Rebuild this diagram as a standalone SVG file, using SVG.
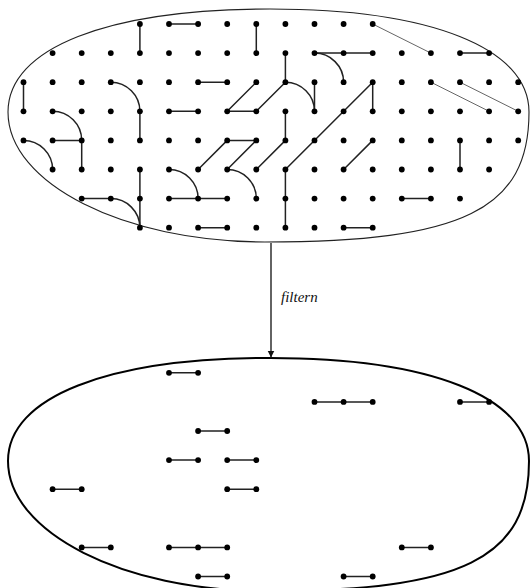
<svg xmlns="http://www.w3.org/2000/svg" width="530" height="588" viewBox="0 0 530 588">
  <defs>
    <style>
      .set { fill: none; stroke: #222; }
      .set-top { stroke-width: 1.1; }
      .set-bottom { stroke-width: 2; stroke: #000; }
      .edge { fill: none; stroke: #222; stroke-width: 1.5; stroke-linecap: butt; }
      .thin { fill: none; stroke: #555; stroke-width: 0.9; }
      .dot { fill: #000; }
      .flow { stroke: #222; stroke-width: 1.4; fill: none; }
      .label { font-family: "Liberation Serif", "DejaVu Serif", serif; font-style: italic; font-size: 15px; fill: #111; }
    </style>
    <path id="blob" d="M8,112 C8,48 107.6,9 270,9 C430.6,9 529,48 529,112 C529,209.5 463,242 265,242 C123.6,242 8,183.5 8,112 Z"/>
    <marker id="head" viewBox="0 0 10 10" refX="10" refY="5" markerWidth="7" markerHeight="10" markerUnits="userSpaceOnUse" orient="auto">
      <path d="M0,0 L10,5 L0,10 Z" fill="#111"/>
    </marker>
  </defs>

  <!-- upper set: full grid with its pairings -->
  <g id="upper-set">
    <use href="#blob" class="set set-top"/>
    <g id="upper-edges">
      <!-- vertical pairs -->
      <path class="edge" d="M139.9,24V53.1 M256.3,24V53.1 M285.4,53.1V82.2 M23.5,82.2V111.3 M314.5,82.2V111.3 M372.7,82.2V111.3 M139.9,111.3V140.4 M285.4,111.3V140.4 M81.7,140.4V169.5 M460,140.4V169.5 M139.9,169.5V227.7 M285.4,169.5V227.7"/>
      <!-- horizontal pairs -->
      <path class="edge" d="M169,24H198.1 M314.5,53.1H372.7 M460,53.1H489.1 M198.1,82.2H227.2 M169,111.3H198.1 M227.2,111.3H256.3 M52.6,140.4H81.7 M227.2,140.4H256.3 M81.7,198.6H110.8 M169,198.6H227.2 M401.8,198.6H430.9 M198.1,227.7H227.2 M343.6,227.7H372.7"/>
      <!-- diagonal pairs -->
      <path class="edge" d="M256.3,82.2L227.2,111.3 M285.4,82.2L256.3,111.3 M372.7,82.2L285.4,169.5 M227.2,140.4L198.1,169.5 M256.3,140.4L227.2,169.5 M285.4,140.4L256.3,169.5 M372.7,140.4L343.6,169.5"/>
      <!-- quarter arcs -->
      <path class="edge" d="M110.8,82.2A29.1,29.1 0 0 1 139.9,111.3 M314.5,53.1A29.1,29.1 0 0 1 343.6,82.2 M285.4,82.2A29.1,29.1 0 0 1 314.5,111.3 M52.6,111.3A29.1,29.1 0 0 1 81.7,140.4 M23.5,140.4A29.1,29.1 0 0 1 52.6,169.5 M169,169.5A29.1,29.1 0 0 1 198.1,198.6 M227.2,169.5A29.1,29.1 0 0 1 256.3,198.6 M110.8,198.6A29.1,29.1 0 0 1 139.9,227.7"/>
      <!-- long thin pairs -->
      <path class="thin" d="M372.7,24L430.9,53.1 M430.9,82.2L489.1,111.3 M460,82.2L518.2,111.3"/>
    </g>
    <g id="upper-dots" class="dot">
      <!-- row 0 -->
      <circle cx="139.9" cy="24" r="2.9"/><circle cx="169" cy="24" r="2.9"/><circle cx="198.1" cy="24" r="2.9"/><circle cx="227.2" cy="24" r="2.9"/><circle cx="256.3" cy="24" r="2.9"/><circle cx="285.4" cy="24" r="2.9"/><circle cx="314.5" cy="24" r="2.9"/><circle cx="343.6" cy="24" r="2.9"/><circle cx="372.7" cy="24" r="2.9"/>
      <!-- row 1 -->
      <circle cx="52.6" cy="53.1" r="2.9"/><circle cx="81.7" cy="53.1" r="2.9"/><circle cx="110.8" cy="53.1" r="2.9"/><circle cx="139.9" cy="53.1" r="2.9"/><circle cx="169" cy="53.1" r="2.9"/><circle cx="198.1" cy="53.1" r="2.9"/><circle cx="227.2" cy="53.1" r="2.9"/><circle cx="256.3" cy="53.1" r="2.9"/><circle cx="285.4" cy="53.1" r="2.9"/><circle cx="314.5" cy="53.1" r="2.9"/><circle cx="343.6" cy="53.1" r="2.9"/><circle cx="372.7" cy="53.1" r="2.9"/><circle cx="401.8" cy="53.1" r="2.9"/><circle cx="430.9" cy="53.1" r="2.9"/><circle cx="460" cy="53.1" r="2.9"/><circle cx="489.1" cy="53.1" r="2.9"/>
      <!-- row 2 -->
      <circle cx="23.5" cy="82.2" r="2.9"/><circle cx="52.6" cy="82.2" r="2.9"/><circle cx="81.7" cy="82.2" r="2.9"/><circle cx="110.8" cy="82.2" r="2.9"/><circle cx="139.9" cy="82.2" r="2.9"/><circle cx="169" cy="82.2" r="2.9"/><circle cx="198.1" cy="82.2" r="2.9"/><circle cx="227.2" cy="82.2" r="2.9"/><circle cx="256.3" cy="82.2" r="2.9"/><circle cx="285.4" cy="82.2" r="2.9"/><circle cx="314.5" cy="82.2" r="2.9"/><circle cx="343.6" cy="82.2" r="2.9"/><circle cx="372.7" cy="82.2" r="2.9"/><circle cx="401.8" cy="82.2" r="2.9"/><circle cx="430.9" cy="82.2" r="2.9"/><circle cx="460" cy="82.2" r="2.9"/><circle cx="489.1" cy="82.2" r="2.9"/><circle cx="518.2" cy="82.2" r="2.9"/>
      <!-- row 3 -->
      <circle cx="23.5" cy="111.3" r="2.9"/><circle cx="52.6" cy="111.3" r="2.9"/><circle cx="81.7" cy="111.3" r="2.9"/><circle cx="110.8" cy="111.3" r="2.9"/><circle cx="139.9" cy="111.3" r="2.9"/><circle cx="169" cy="111.3" r="2.9"/><circle cx="198.1" cy="111.3" r="2.9"/><circle cx="227.2" cy="111.3" r="2.9"/><circle cx="256.3" cy="111.3" r="2.9"/><circle cx="285.4" cy="111.3" r="2.9"/><circle cx="314.5" cy="111.3" r="2.9"/><circle cx="343.6" cy="111.3" r="2.9"/><circle cx="372.7" cy="111.3" r="2.9"/><circle cx="401.8" cy="111.3" r="2.9"/><circle cx="430.9" cy="111.3" r="2.9"/><circle cx="460" cy="111.3" r="2.9"/><circle cx="489.1" cy="111.3" r="2.9"/><circle cx="518.2" cy="111.3" r="2.9"/>
      <!-- row 4 -->
      <circle cx="23.5" cy="140.4" r="2.9"/><circle cx="52.6" cy="140.4" r="2.9"/><circle cx="81.7" cy="140.4" r="2.9"/><circle cx="110.8" cy="140.4" r="2.9"/><circle cx="139.9" cy="140.4" r="2.9"/><circle cx="169" cy="140.4" r="2.9"/><circle cx="198.1" cy="140.4" r="2.9"/><circle cx="227.2" cy="140.4" r="2.9"/><circle cx="256.3" cy="140.4" r="2.9"/><circle cx="285.4" cy="140.4" r="2.9"/><circle cx="314.5" cy="140.4" r="2.9"/><circle cx="343.6" cy="140.4" r="2.9"/><circle cx="372.7" cy="140.4" r="2.9"/><circle cx="401.8" cy="140.4" r="2.9"/><circle cx="430.9" cy="140.4" r="2.9"/><circle cx="460" cy="140.4" r="2.9"/><circle cx="489.1" cy="140.4" r="2.9"/><circle cx="518.2" cy="140.4" r="2.9"/>
      <!-- row 5 -->
      <circle cx="52.6" cy="169.5" r="2.9"/><circle cx="81.7" cy="169.5" r="2.9"/><circle cx="110.8" cy="169.5" r="2.9"/><circle cx="139.9" cy="169.5" r="2.9"/><circle cx="169" cy="169.5" r="2.9"/><circle cx="198.1" cy="169.5" r="2.9"/><circle cx="227.2" cy="169.5" r="2.9"/><circle cx="256.3" cy="169.5" r="2.9"/><circle cx="285.4" cy="169.5" r="2.9"/><circle cx="314.5" cy="169.5" r="2.9"/><circle cx="343.6" cy="169.5" r="2.9"/><circle cx="372.7" cy="169.5" r="2.9"/><circle cx="401.8" cy="169.5" r="2.9"/><circle cx="430.9" cy="169.5" r="2.9"/><circle cx="460" cy="169.5" r="2.9"/><circle cx="489.1" cy="169.5" r="2.9"/>
      <!-- row 6 -->
      <circle cx="81.7" cy="198.6" r="2.9"/><circle cx="110.8" cy="198.6" r="2.9"/><circle cx="139.9" cy="198.6" r="2.9"/><circle cx="169" cy="198.6" r="2.9"/><circle cx="198.1" cy="198.6" r="2.9"/><circle cx="227.2" cy="198.6" r="2.9"/><circle cx="256.3" cy="198.6" r="2.9"/><circle cx="285.4" cy="198.6" r="2.9"/><circle cx="314.5" cy="198.6" r="2.9"/><circle cx="343.6" cy="198.6" r="2.9"/><circle cx="372.7" cy="198.6" r="2.9"/><circle cx="401.8" cy="198.6" r="2.9"/><circle cx="430.9" cy="198.6" r="2.9"/><circle cx="460" cy="198.6" r="2.9"/>
      <!-- row 7 -->
      <circle cx="139.9" cy="227.7" r="2.9"/><circle cx="169" cy="227.7" r="2.9"/><circle cx="198.1" cy="227.7" r="2.9"/><circle cx="227.2" cy="227.7" r="2.9"/><circle cx="256.3" cy="227.7" r="2.9"/><circle cx="285.4" cy="227.7" r="2.9"/><circle cx="314.5" cy="227.7" r="2.9"/><circle cx="343.6" cy="227.7" r="2.9"/><circle cx="372.7" cy="227.7" r="2.9"/>
    </g>
  </g>

  <!-- lower set: only the horizontal pairs survive -->
  <g id="lower-set">
    <use href="#blob" class="set set-bottom" transform="translate(0,349)"/>
    <path class="edge" d="M169,372.8H198.1 M314.5,401.9H372.7 M460,401.9H489.1 M198.1,431H227.2 M169,460.1H198.1 M227.2,460.1H256.3 M52.6,489.2H81.7 M227.2,489.2H256.3 M81.7,547.4H110.8 M169,547.4H227.2 M401.8,547.4H430.9 M198.1,576.5H227.2 M343.6,576.5H372.7"/>
    <g class="dot">
      <circle cx="169" cy="372.8" r="2.9"/><circle cx="198.1" cy="372.8" r="2.9"/>
      <circle cx="314.5" cy="401.9" r="2.9"/><circle cx="343.6" cy="401.9" r="2.9"/><circle cx="372.7" cy="401.9" r="2.9"/><circle cx="460" cy="401.9" r="2.9"/><circle cx="489.1" cy="401.9" r="2.9"/>
      <circle cx="198.1" cy="431" r="2.9"/><circle cx="227.2" cy="431" r="2.9"/>
      <circle cx="169" cy="460.1" r="2.9"/><circle cx="198.1" cy="460.1" r="2.9"/><circle cx="227.2" cy="460.1" r="2.9"/><circle cx="256.3" cy="460.1" r="2.9"/>
      <circle cx="52.6" cy="489.2" r="2.9"/><circle cx="81.7" cy="489.2" r="2.9"/><circle cx="227.2" cy="489.2" r="2.9"/><circle cx="256.3" cy="489.2" r="2.9"/>
      <circle cx="81.7" cy="547.4" r="2.9"/><circle cx="110.8" cy="547.4" r="2.9"/><circle cx="169" cy="547.4" r="2.9"/><circle cx="198.1" cy="547.4" r="2.9"/><circle cx="227.2" cy="547.4" r="2.9"/><circle cx="401.8" cy="547.4" r="2.9"/><circle cx="430.9" cy="547.4" r="2.9"/>
      <circle cx="198.1" cy="576.5" r="2.9"/><circle cx="227.2" cy="576.5" r="2.9"/><circle cx="343.6" cy="576.5" r="2.9"/><circle cx="372.7" cy="576.5" r="2.9"/>
    </g>
  </g>

  <!-- mapping arrow between the two sets -->
  <g id="connectors">
    <line class="flow" x1="271" y1="243" x2="271" y2="357.5" marker-end="url(#head)"/>
    <text class="label" x="281" y="302">filtern</text>
  </g>
</svg>
